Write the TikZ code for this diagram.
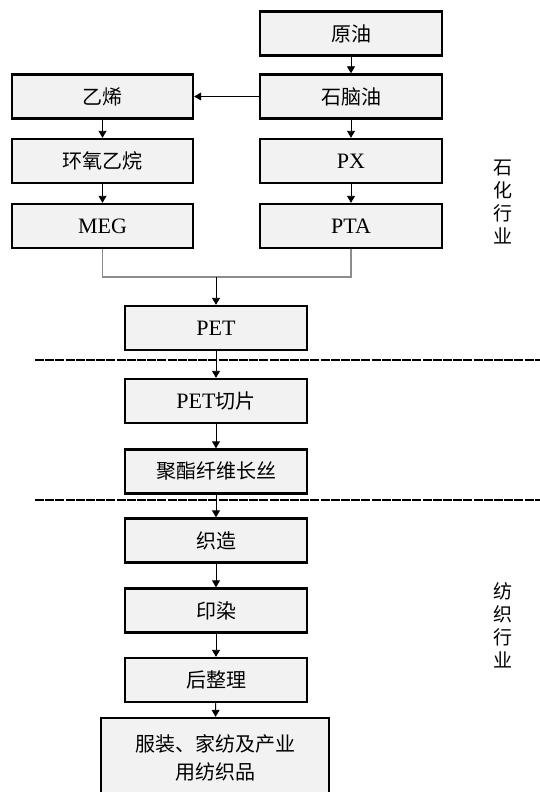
\documentclass[tikz,border=0pt]{standalone}
\usepackage{fontspec}
\setmainfont{Liberation Serif}
\newfontfamily\cjk{Noto Sans CJK SC}
\usepackage{tikz}
\usetikzlibrary{arrows.meta}
\definecolor{boxfill}{HTML}{F2F2F2}
\definecolor{joinline}{HTML}{8C8C8C}
\tikzset{
  procbox/.style={draw=black, line width=2.4pt, fill=boxfill, minimum width=182pt,
    minimum height=44pt, inner sep=0pt, font=\fontsize{20}{28}\selectfont},
  latin/.style={font=\fontsize{22}{28}\selectfont},
  arr/.style={-{Triangle[width=8pt,length=7pt]}, line width=0.9pt},
  joinln/.style={draw=joinline, line width=1.4pt},
  sepline/.style={line width=2.2pt, dash pattern=on 9pt off 1.2pt},
  side/.style={font=\cjk\fontsize{19}{23}\selectfont, align=center}
}
\begin{document}
\begin{tikzpicture}[x=1pt, y=-1pt]
  \useasboundingbox (0,0) rectangle (540,792);

  % petrochemical part
  \node[procbox] (crude) at (351,33.5) {\cjk 原油};
  \node[procbox] (naph)  at (351,96.5) {\cjk 石脑油};
  \node[procbox, minimum width=181pt] (eth) at (102.5,96.5) {\cjk 乙烯};
  \node[procbox, minimum width=181pt] (eo)  at (102.5,161)  {\cjk 环氧乙烷};
  \node[procbox, latin] (px)    at (351,161)  {PX};
  \node[procbox, latin, minimum width=181pt] (meg) at (102.5,226)  {MEG};
  \node[procbox, latin] (pta)   at (351,226)  {PTA};
  \node[procbox, latin] (pet)   at (216,328)  {PET};

  % fibre part
  \node[procbox, latin] (chip)  at (216,401)   {PET{\cjk\fontsize{20}{28}\selectfont 切片}};
  \node[procbox] (fiber) at (216,471.5) {\cjk 聚酯纤维长丝};

  % textile part
  \node[procbox] (weave)  at (216,540.5) {\cjk 织造};
  \node[procbox] (dye)    at (216,610.5) {\cjk 印染};
  \node[procbox] (finish) at (216,680)   {\cjk 后整理};
  \node[procbox, minimum width=228pt, minimum height=80pt, align=center]
    (goods) at (215,758) {\cjk 服装、家纺及产业\\\cjk 用纺织品};

  \draw[arr] (crude) -- (naph);
  \draw[arr] (naph) -- (eth);
  \draw[arr] (eth) -- (eo);
  \draw[arr] (eo) -- (meg);
  \draw[arr] (naph) -- (px);
  \draw[arr] (px) -- (pta);

  % join of MEG and PTA
  \coordinate (join) at (216,277);
  \draw[joinln] (meg.south) |- (join) -| (pta.south);
  \draw[arr] (join) -- (pet.north);

  \draw[arr] (pet) -- (chip);
  \draw[arr] (chip) -- (fiber);
  \draw[arr] (fiber) -- (weave);
  \draw[arr] (weave) -- (dye);
  \draw[arr] (dye) -- (finish);
  \draw[arr] (finish) -- (goods);

  % separators
  \draw[sepline] (35,360) -- (540,360);
  \draw[sepline] (35,500) -- (540,500);

  \node[side] (chem) at (503,202) {石\\化\\行\\业};
  \node[side] (text) at (503,625) {纺\\织\\行\\业};
\end{tikzpicture}
\end{document}
